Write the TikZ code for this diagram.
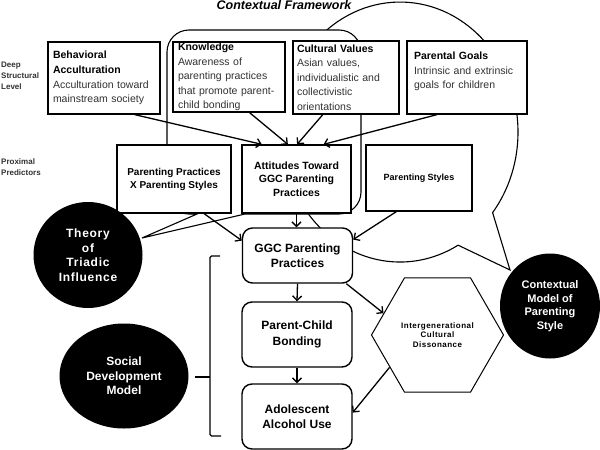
\documentclass[tikz,border=0pt]{standalone}
\usepackage{fontspec}
\setmainfont{Liberation Sans}
\newfontfamily\widesans[LetterSpace=6]{Liberation Sans}
\definecolor{inkgray}{RGB}{50,50,50}
\usetikzlibrary{calc, positioning, arrows.meta, shapes.geometric}

\begin{document}
\begin{tikzpicture}[
    x=1pt, y=1pt,
    deepbox/.style={draw, fill=white, line width=1.3pt, inner xsep=5pt, inner ysep=0pt,
      align=left, text=inkgray, font=\fontsize{10.5}{14.6}\selectfont},
    proxbox/.style={draw, fill=white, line width=1.3pt, inner sep=2pt, align=center,
      font=\fontsize{10}{13}\selectfont\bfseries},
    outbox/.style={draw, fill=white, line width=1.4pt, rounded corners=10pt, align=center,
      minimum width=110pt, minimum height=65pt, font=\fontsize{12}{15.5}\selectfont\bfseries},
    theory/.style={ellipse, fill=black, text=white, inner sep=0pt, align=center},
    levelnote/.style={anchor=west, inner sep=0pt, align=left, text=inkgray,
      font=\fontsize{8}{11}\selectfont\bfseries},
    bubble/.style={draw, fill=white, line width=1.1pt},
    link/.style={line width=1.3pt, -{Straight Barb[length=4.5pt, width=9pt]}},
  ]
  \useasboundingbox (0,0) rectangle (600,-450);

  \draw[bubble] (510,-270) -- (492.6,-212.6)
    arc[start angle=-38.3, end angle=299.5, x radius=118pt, y radius=130pt] -- cycle;
  \draw[bubble] (245,-214) [rounded corners=22pt] -- (361,-214) -- (361,-30) -- (167,-30)
    -- (167,-214) [sharp corners] -- (197,-214) -- (142,-238) -- cycle;

  \node[font=\fontsize{12.5}{14}\selectfont\bfseries\itshape, anchor=base] (frame) at (284,-9) {Contextual Framework};
  \node[levelnote] (deep) at (1,-76) {Deep\\Structural\\Level};
  \node[levelnote] (proximal) at (1,-167) {Proximal\\Predictors};

  \node[deepbox, text width=102pt, minimum height=72pt] (behav) at (104,-78)
    {{\color{black}\bfseries Behavioral}\\{\color{black}\bfseries Acculturation}\\Acculturation toward\\mainstream society};
  \node[deepbox, text width=102pt, minimum height=70pt] (know) at (229,-77)
    {{\color{black}\bfseries Knowledge}\\Awareness of\\parenting practices\\that promote parent-\\child bonding};
  \node[deepbox, inner xsep=4pt, text width=98pt, minimum height=73pt] (cult) at (346,-77.5)
    {{\color{black}\bfseries Cultural Values}\\Asian values,\\individualistic and\\collectivistic\\orientations};
  \node[deepbox, inner xsep=7pt, text width=106pt, minimum height=73pt] (goals) at (467,-77.5)
    {{\color{black}\bfseries Parental Goals}\\Intrinsic and extrinsic\\goals for children\\\mbox{}};

  \node[proxbox, minimum width=114pt, minimum height=68pt] (ppps) at (174,-179)
    {Parenting Practices\\X Parenting Styles};
  \node[proxbox, minimum width=109pt, minimum height=68pt,
    font=\fontsize{10.5}{13.5}\selectfont\bfseries] (att) at (296.5,-179)
    {Attitudes Toward\\GGC Parenting\\Practices};
  \node[proxbox, minimum width=106pt, minimum height=66pt,
    font=\fontsize{9}{11}\selectfont\bfseries] (pstyle) at (419,-178) {Parenting Styles};

  \node[outbox, minimum height=55pt] (ggc) at (297.5,-255.5) {GGC Parenting\\Practices};
  \node[outbox] (bond) at (297,-334.5) {Parent-Child\\Bonding};
  \node[outbox] (alc) at (297,-416.5) {Adolescent\\Alcohol Use};

  \node[regular polygon, regular polygon sides=6, minimum size=132pt, draw, fill=white,
    line width=1pt, inner sep=0pt, align=center,
    font=\widesans\fontsize{8}{9.8}\selectfont\bfseries] (dissonance) at (437.5,-335)
    {Intergenerational\\Cultural\\Dissonance};

  \draw[link] (behav.-50) -- (att.135);
  \draw[link] (know.-60) -- (att.104);
  \draw[link] (cult.-122) -- (att.89);
  \draw[link] (goals.-129) -- (att.52);
  \draw[link] (att.south) -- (att.south |- ggc.north);
  \draw[link] (ppps.-49.5) -- (ggc.165);
  \draw[link] (pstyle.-124) -- (ggc.16);
  \draw[link] (ggc.south) -- (bond.north);
  \draw[link] (bond.south) -- (alc.north);
  \draw[link] (ggc.-30) -- (dissonance.158);
  \draw[link] (dissonance.-146) -- (alc.4);

  \node[theory, minimum width=109pt, minimum height=106pt,
    font=\widesans\fontsize{12}{14.5}\selectfont\bfseries] (triadic) at (88,-255)
    {Theory\\of\\Triadic\\Influence};
  \node[theory, minimum width=129pt, minimum height=105pt,
    font=\fontsize{12}{14.5}\selectfont\bfseries] (socdev) at (124,-376)
    {Social\\Development\\Model};
  \node[theory, minimum width=100pt, minimum height=105pt,
    font=\fontsize{11}{13.5}\selectfont\bfseries] (ctxmodel) at (550,-306)
    {Contextual\\Model of\\Parenting\\Style};

  \draw[line width=1.4pt, rounded corners=1.5pt] (220,-256) -- (210,-256) -- (210,-436) -- (221,-436);
  \draw[line width=1.4pt] (210,-377) -- (195,-377);
\end{tikzpicture}
\end{document}
